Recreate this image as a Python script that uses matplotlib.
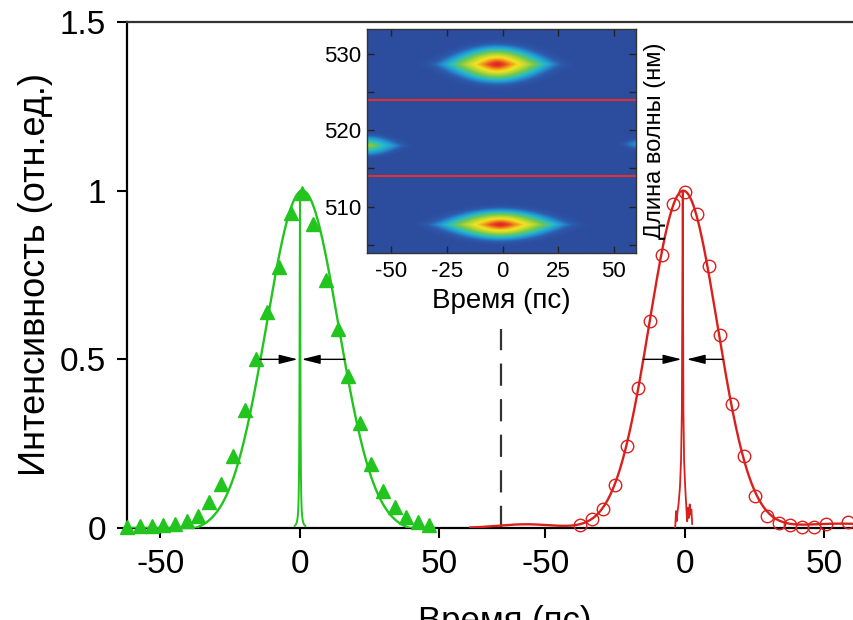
import numpy as np
import matplotlib
matplotlib.use("Agg")
import matplotlib.pyplot as plt
from matplotlib.colors import LinearSegmentedColormap

plt.rcParams['font.family'] = ['Liberation Sans', 'DejaVu Sans']

# ---------------- data ----------------
# green (left panel) measured points
green_t = [-62.1, -57.3, -53.2, -49.0, -44.8, -40.6, -36.4, -32.5, -28.4, -23.9,
           -19.7, -15.9, -11.9, -7.4, -3.2, 0.6, 4.8, 9.3, 13.5, 17.3, 21.5,
           25.4, 29.9, 34.1, 38.0, 42.3, 46.4]
green_I = [0.004, 0.006, 0.006, 0.008, 0.012, 0.020, 0.036, 0.076, 0.130, 0.214,
           0.350, 0.500, 0.640, 0.775, 0.934, 0.993, 0.900, 0.736, 0.590, 0.450,
           0.310, 0.190, 0.110, 0.063, 0.034, 0.018, 0.010]
# red (right panel) measured points
red_t = [-37.5, -33.4, -29.4, -25.0, -20.8, -16.7, -12.6, -8.2, -4.2, 0.0, 4.2,
         8.5, 12.6, 16.8, 21.0, 25.2, 29.4, 33.6, 37.6, 41.8, 46.2, 50.5, 58.6]
red_I = [0.009, 0.026, 0.056, 0.126, 0.244, 0.414, 0.614, 0.808, 0.961, 0.995,
         0.931, 0.777, 0.571, 0.367, 0.212, 0.096, 0.037, 0.016, 0.008, 0.004,
         0.004, 0.012, 0.019]

# fit parameters (amplitude, centre, sigma, baseline)
green_fit = dict(amp=1.0, c=0.9, sigma=12.9, base=0.012, tmin=-62, tmax=48)
red_fit = dict(amp=1.0, c=-0.6, sigma=12.15, tmin=-77, tmax=61)
red_bumps = [(0.011, -57.0, 10.0), (0.013, 56.0, 14.0)]   # (amp, centre, sigma)
green_spike = dict(amp=1.0, c=0.0, gamma=0.15, half=1.9)
red_spike_t = [-3.5, -3.2, -3.0, -2.7, -2.3, -1.8, -1.4, -1.1, -0.8, -0.55, -0.3,
               0.1, 0.5, 0.8, 1.1, 1.4, 1.7, 2.0, 2.3, 2.6]
red_spike_I = [0.0, 0.05, 0.02, 0.045, 0.07, 0.12, 0.20, 0.35, 1.0, 0.35, 0.20,
               0.12, 0.06, 0.02, 0.06, 0.03, 0.07, 0.04, 0.055, 0.012]

# FWHM arrows: (tail t, tip t) at half maximum
green_arrows = [(-14.3, -0.8), (16.1, 0.6)]
red_arrows = [(-15.0, -1.2), (13.6, 0.6)]

panel_offset = 138.0        # right panel's zero on the shared axis
divider = 72.0
xtick_pos = [-50, 0, 50, -50 + panel_offset, panel_offset, 50 + panel_offset]
xtick_lab = ['-50', '0', '50', '-50', '0', '50']
ytick_pos = [0, 0.5, 1, 1.5]
ytick_lab = ['0', '0.5', '1', '1.5']

# inset: spectral blobs (t0, lambda0, half-length t, half-thickness lambda, amplitude)
blob_t0 = [-2.5, -1.0, -61.0, 61.0]
blob_l0 = [528.7, 507.6, 518.0, 518.2]
blob_st = [31.0, 35.0, 19.0, 9.0]
blob_sl = [2.9, 2.4, 1.6, 0.9]
blob_amp = [1.0, 1.0, 0.55, 0.25]
inset_red_lines = [524.0, 514.0]
inset_xticks = [-50, -25, 0, 25, 50]
inset_yticks = [505, 510, 515, 520, 525, 530]
inset_ylabels = ['', '510', '', '520', '', '530']

# ---------------- figure ----------------
fig = plt.figure(figsize=(8.54, 6.2), dpi=100)
ax = fig.add_axes([127/854, 1-528/620, 1-127/854, (528-22)/620])

GREEN = '#22c41e'
RED = '#d9201c'

# green fit
tg = np.linspace(green_fit['tmin'], green_fit['tmax'], 800)
gfit = (green_fit['amp'] + green_fit['base']) * np.exp(-(tg - green_fit['c'])**2 / (2 * green_fit['sigma']**2)) - green_fit['base']
gfit = np.clip(gfit, 0, None)
ax.plot(tg, gfit, color=GREEN, lw=1.7, zorder=3)
ts = np.linspace(-green_spike['half'], green_spike['half'], 400) + green_spike['c']
gs = green_spike['amp'] * green_spike['gamma']**2 / ((ts - green_spike['c'])**2 + green_spike['gamma']**2)
ax.plot(ts, gs, color=GREEN, lw=1.4, zorder=3)
ax.plot(green_t, green_I, ls='none', marker='^', ms=10, color=GREEN, mec=GREEN,
        zorder=4, clip_on=False)

# red fit
tr = np.linspace(red_fit['tmin'], red_fit['tmax'], 800)
rfit = red_fit['amp'] * np.exp(-(tr - red_fit['c'])**2 / (2 * red_fit['sigma']**2))
for a, c, s in red_bumps:
    rfit = rfit + a * np.exp(-(tr - c)**2 / (2 * s**2))
ax.plot(tr + panel_offset, rfit, color=RED, lw=1.7, zorder=3)
ax.plot(np.array(red_spike_t) + panel_offset, red_spike_I, color=RED, lw=1.3, zorder=3)
ax.plot(np.array(red_t) + panel_offset, red_I, ls='none', marker='o', ms=9,
        mfc='none', mec=RED, mew=1.0, zorder=4, clip_on=False)

# FWHM arrows
astyle = dict(arrowstyle='-|>,head_length=0.8,head_width=0.2', mutation_scale=14,
              lw=1.0, color='black', shrinkA=0, shrinkB=0)
for t0, t1 in green_arrows:
    ax.annotate('', xy=(t1, 0.5), xytext=(t0, 0.5), arrowprops=astyle, zorder=5)
for t0, t1 in red_arrows:
    ax.annotate('', xy=(t1 + panel_offset, 0.5), xytext=(t0 + panel_offset, 0.5),
                arrowprops=astyle, zorder=5)

# divider
ax.plot([divider, divider], [0, 0.59], color='#333333', lw=1.6,
        dashes=(10, 6), zorder=2)

ax.set_xlim(-62.0, 198.6)
ax.set_ylim(0, 1.5)
ax.set_xticks(xtick_pos)
ax.set_xticklabels(xtick_lab)
ax.set_yticks(ytick_pos)
ax.set_yticklabels(ytick_lab)
ax.tick_params(axis='both', direction='out', length=7, width=1.5, labelsize=24,
               colors='black')
ax.tick_params(axis='x', pad=8)
ax.tick_params(axis='y', pad=8)
ax.spines['right'].set_visible(False)
for s in ['left', 'bottom']:
    ax.spines[s].set_linewidth(1.6)
    ax.spines[s].set_color('black')
ax.spines['top'].set_linewidth(1.6)
ax.spines['top'].set_color('#333333')
ax.set_ylabel('Интенсивность (отн.ед.)', fontsize=26, labelpad=5)
ax.set_xlabel('Время (пс)', fontsize=25)
ax.xaxis.set_label_coords(0.52, -0.152)

# ---------------- inset ----------------
axi = fig.add_axes([367/854, 1-253/620, 269/854, 224/620])
tl, th = -61.0, 60.0
ll, lh = 503.9, 533.3
T, L = np.meshgrid(np.linspace(tl, th, 400), np.linspace(ll, lh, 300))
img = np.zeros_like(T)
for t0, l0, st, sl, a in zip(blob_t0, blob_l0, blob_st, blob_sl, blob_amp):
    dl = (L - l0) / sl
    dt = (T - t0) / st
    r = (np.abs(dl) + np.sqrt(dl**2 + 4 * dt**2)) / 2
    img = img + a * (0.4 * np.exp(-9 * r**2) + 0.6 * np.exp(-2.3 * r**4))
cmap = LinearSegmentedColormap.from_list('spec', [
    (0.0, '#2c4d9e'), (0.10, '#2d5cb0'), (0.22, '#2390d0'), (0.36, '#27bcc8'),
    (0.50, '#6ec652'), (0.62, '#b8d834'), (0.74, '#f5e41c'), (0.86, '#f29a1f'),
    (1.0, '#e2261f')])
axi.imshow(img, extent=[tl, th, ll, lh], origin='lower', aspect='auto',
           cmap=cmap, vmin=0, vmax=1, interpolation='bilinear')
for y in inset_red_lines:
    axi.axhline(y, color='#e4302a', lw=1.5)
axi.set_xlim(tl, th)
axi.set_ylim(ll, lh)
axi.set_xticks(inset_xticks)
axi.set_xticklabels([str(v) for v in inset_xticks])
axi.set_yticks(inset_yticks)
axi.set_yticklabels(inset_ylabels)
axi.tick_params(axis='both', direction='in', length=5, width=1.0, labelsize=16,
                top=True, right=True, colors='#222222', labelcolor='black')
axi.tick_params(axis='x', pad=6)
axi.tick_params(axis='y', pad=4)
for s in axi.spines.values():
    s.set_linewidth(1.0)
    s.set_color('#333333')
axi.set_xlabel('Время (пс)', fontsize=20, labelpad=4)
axi.yaxis.set_label_position('right')
axi.set_ylabel('Длина волны (нм)', fontsize=17, labelpad=6, rotation=90)

fig.savefig('out.png', dpi=100)
